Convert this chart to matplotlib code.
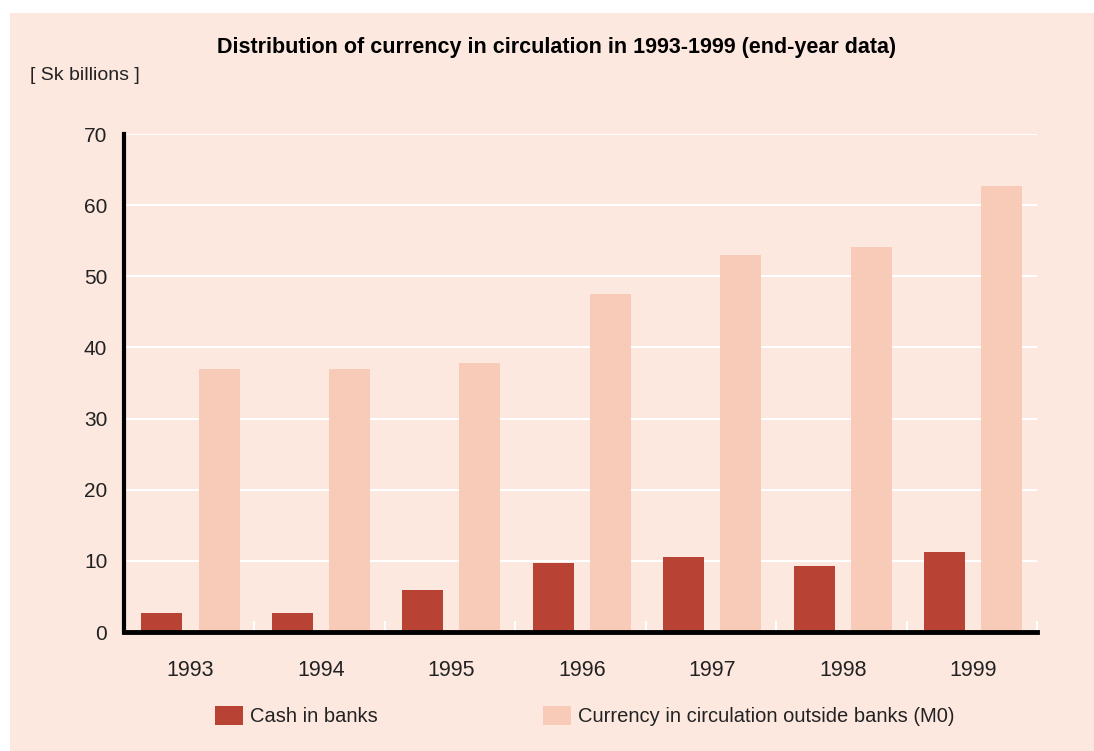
import numpy as np
import matplotlib
matplotlib.use('Agg')
from matplotlib import pyplot as plt
from matplotlib.patches import Rectangle

years = ['1993', '1994', '1995', '1996', '1997', '1998', '1999']
cash_in_banks = [2.7, 2.7, 5.9, 9.7, 10.5, 9.3, 11.2]
currency_m0 = [37.0, 37.0, 37.8, 47.5, 53.0, 54.1, 62.7]
y_ticks = [0, 10, 20, 30, 40, 50, 60, 70]

bg = '#fde8e0'
c_cash = '#b84233'
c_m0 = '#f8cab8'

plt.rcParams['font.family'] = ['Liberation Sans', 'DejaVu Sans']

fig = plt.figure(figsize=(10.94, 7.51), dpi=100)
fig.patch.set_facecolor('white')
fig.patches.append(Rectangle((10 / 1094, 0), 1 - 10 / 1094, 1 - 13 / 751,
                             transform=fig.transFigure, facecolor=bg,
                             edgecolor='none', zorder=-10))

ax = fig.add_axes([124 / 1094, 1 - 632 / 751, 913 / 1094, 498 / 751])
ax.set_facecolor('none')

x = np.arange(len(years))
w = 0.315
off = 0.219
ax.bar(x - off + 0.01, cash_in_banks, width=w, color=c_cash, zorder=3, label='Cash in banks')
ax.bar(x + off + 0.01, currency_m0, width=w, color=c_m0, zorder=3,
       label='Currency in circulation outside banks (M0)')

ax.set_xlim(-0.5, len(years) - 0.5)
ax.set_ylim(0, 70)
ax.set_yticks(y_ticks)
ax.set_yticklabels([str(v) for v in y_ticks])
for v in y_ticks[1:]:
    ax.axhline(v, color='white', lw=1.5, zorder=1, xmin=0.003)

ax.set_xticks(x + 0.01)
ax.set_xticklabels(years)
ax.set_xticks(np.arange(0.5, len(years), 1), minor=True)
ax.tick_params(axis='x', which='major', length=0, pad=20, labelsize=15.5, colors='#222222')
ax.tick_params(axis='x', which='minor', direction='in', length=8, width=1.5, color='white')
ax.tick_params(axis='y', length=0, pad=12, labelsize=15, colors='#222222')

for s in ['top', 'right']:
    ax.spines[s].set_visible(False)
ax.spines['left'].set_linewidth(3)
ax.spines['bottom'].set_linewidth(3.5)
ax.spines['left'].set_zorder(5)
ax.spines['bottom'].set_zorder(5)

fig.text(557 / 1094, 1 - 48 / 751, 'Distribution of currency in circulation in 1993-1999 (end-year data)',
         ha='center', va='center', fontsize=15.5, fontweight='bold')
fig.text(30 / 1094, 1 - 75 / 751, '[ Sk billions ]', ha='left', va='center', fontsize=14,
         color='#222222')

leg = fig.legend(loc='center left', bbox_to_anchor=(215 / 1094, 1 - 716 / 751), ncol=2,
                 frameon=False, fontsize=14.5, handlelength=1.39, handleheight=1.1,
                 handletextpad=0.35, columnspacing=8.2, borderpad=0, borderaxespad=0)
for t in leg.get_texts():
    t.set_color('#222222')

fig.savefig('out.png', dpi=100, facecolor=fig.get_facecolor())
